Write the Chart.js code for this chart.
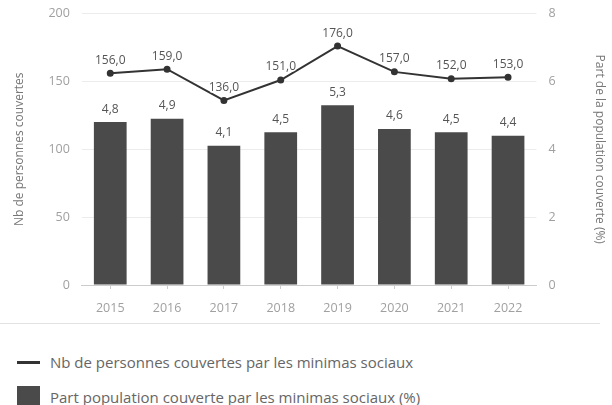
<!DOCTYPE html>
<html>
<head>
<meta charset="utf-8">
<script src="https://cdn.jsdelivr.net/npm/chart.js@4"></script>
<style>
  body { margin: 0; background: #fff; font-family: "Open Sans", sans-serif; }
  #wrap { width: 612px; height: 405px; overflow: hidden; position: relative; }
  #chartBox { position: absolute; left: 0; top: -6px; width: 612px; height: 338px; }
  .sep { position: absolute; left: 0; top: 323px; width: 600px; height: 1px; background: #e2e2e2; }
  .legend { position: absolute; left: 17px; top: 350px; }
  .legend-item { display: flex; align-items: center; height: 24px; margin-bottom: 11px; color: #666; font-size: 15px; }
  .legend-item .mark { width: 23px; margin-right: 10px; }
</style>
</head>
<body>
<div id="wrap">
  <div id="chartBox"><canvas id="chart"></canvas></div>
  <div class="sep"></div>
  <div class="legend" id="legend"></div>
</div>
<script>
const years = ["2015", "2016", "2017", "2018", "2019", "2020", "2021", "2022"];
const nbPersonnes = [156, 159, 136, 151, 176, 157, 152, 153];
const partPopulation = [4.8, 4.9, 4.1, 4.5, 5.3, 4.6, 4.5, 4.4];

const labelNb = "Nb de personnes couvertes par les minimas sociaux";
const labelPart = "Part population couverte par les minimas sociaux (%)";

const dark = "#333333";
const barColor = "#4a4a4a";
const tickColor = "#a0a0a0";
const tickFont = { size: 12.5, family: "Open Sans" };
const titleFont = { size: 12, family: "Open Sans" };

// french number format with one decimal
const fmt = v => v.toFixed(1).replace(".", ",");

// value labels above points and bars
const valueLabels = {
  id: "valueLabels",
  afterDatasetsDraw(chart) {
    const ctx = chart.ctx;
    ctx.save();
    ctx.font = "12px 'Open Sans'";
    ctx.textAlign = "center";
    ctx.textBaseline = "middle";
    chart.data.datasets.forEach((ds, i) => {
      const meta = chart.getDatasetMeta(i);
      meta.data.forEach((el, j) => {
        const txt = fmt(ds.data[j]);
        const y = el.y - 13;
        ctx.lineWidth = 3;
        ctx.strokeStyle = "#fff";
        ctx.strokeText(txt, el.x, y);
        ctx.fillStyle = "#555";
        ctx.fillText(txt, el.x, y);
      });
    });
    ctx.restore();
  }
};

const chart = new Chart(document.getElementById("chart"), {
  data: {
    labels: years,
    datasets: [
      {
        type: "line",
        label: labelNb,
        data: nbPersonnes,
        yAxisID: "y",
        borderColor: dark,
        backgroundColor: dark,
        borderWidth: 2,
        pointRadius: 2.5,
        pointBackgroundColor: dark,
        tension: 0,
        order: 0
      },
      {
        type: "bar",
        label: labelPart,
        data: partPopulation,
        yAxisID: "y1",
        backgroundColor: barColor,
        barPercentage: 0.72,
        categoryPercentage: 0.8,
        order: 1
      }
    ]
  },
  options: {
    responsive: true,
    maintainAspectRatio: false,
    animation: false,
    layout: { padding: { top: 2, right: 3, left: 6, bottom: 4 } },
    plugins: {
      legend: { display: false },
      tooltip: { enabled: false }
    },
    scales: {
      x: {
        grid: { display: true, offset: false, drawOnChartArea: false, color: "#cccccc", tickLength: 4 },
        border: { color: "#cccccc" },
        ticks: { color: tickColor, font: tickFont, padding: 12 }
      },
      y: {
        position: "left",
        min: 0,
        max: 200,
        ticks: { stepSize: 50, color: tickColor, font: tickFont, padding: 12 },
        grid: { color: "#ececec", drawTicks: false },
        border: { display: false },
        title: { display: true, text: "Nb de personnes couvertes", color: "#777", font: titleFont, padding: { top: 6, bottom: 10 } }
      },
      y1: {
        position: "right",
        min: 0,
        max: 8,
        ticks: { stepSize: 2, color: tickColor, font: tickFont, padding: 12 },
        grid: { drawOnChartArea: false, drawTicks: false },
        border: { display: false },
        title: { display: true, text: "Part de la population couverte (%)", color: "#777", font: titleFont, padding: { top: 2, bottom: 25 } }
      }
    }
  },
  plugins: [valueLabels]
});

// legend below the chart, built from the datasets
const legend = document.getElementById("legend");
chart.data.datasets.forEach(ds => {
  const item = document.createElement("div");
  item.className = "legend-item";
  const mark = document.createElement("div");
  mark.className = "mark";
  if (ds.type === "line") {
    mark.style.height = "3px";
    mark.style.background = ds.borderColor;
  } else {
    mark.style.height = "23px";
    mark.style.background = ds.backgroundColor;
  }
  const text = document.createElement("span");
  text.textContent = ds.label;
  item.appendChild(mark);
  item.appendChild(text);
  legend.appendChild(item);
});
</script>
</body>
</html>
